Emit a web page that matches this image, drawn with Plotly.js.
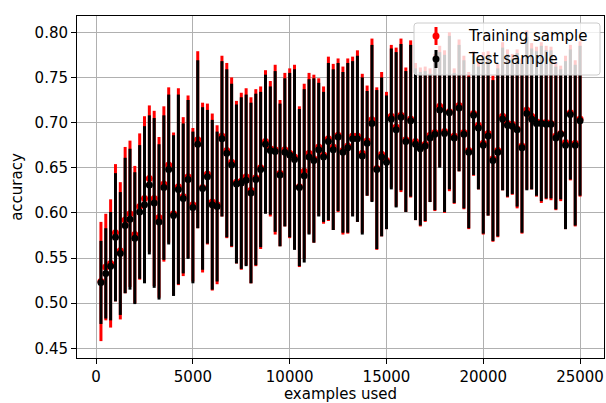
<!DOCTYPE html>
<html>
<head>
<meta charset="utf-8">
<script src="https://cdn.plot.ly/plotly-3.0.1.min.js"></script>
<style>html,body{margin:0;padding:0;background:#fff;}#chart{width:606px;height:403px;}</style>
</head>
<body>
<div id="chart"></div>
<script>
// examples used: 250, 500, ..., 25000 (100 steps)
const examplesUsed = [250,500,750,1000,1250,1500,1750,2000,2250,2500,2750,3000,3250,3500,3750,4000,4250,4500,4750,5000,
5250,5500,5750,6000,6250,6500,6750,7000,7250,7500,7750,8000,8250,8500,8750,9000,9250,9500,9750,10000,
10250,10500,10750,11000,11250,11500,11750,12000,12250,12500,12750,13000,13250,13500,13750,14000,14250,14500,14750,15000,
15250,15500,15750,16000,16250,16500,16750,17000,17250,17500,17750,18000,18250,18500,18750,19000,19250,19500,19750,20000,
20250,20500,20750,21000,21250,21500,21750,22000,22250,22500,22750,23000,23250,23500,23750,24000,24250,24500,24750,25000];

const trainMean = [0.524,0.540,0.544,0.578,0.558,0.592,0.599,0.576,0.607,0.616,
0.638,0.616,0.595,0.632,0.653,0.599,0.629,0.618,0.640,0.609,
0.681,0.628,0.643,0.612,0.609,0.685,0.669,0.656,0.634,0.635,
0.640,0.625,0.639,0.650,0.679,0.671,0.670,0.644,0.670,0.666,
0.662,0.629,0.646,0.666,0.660,0.673,0.664,0.682,0.673,0.686,
0.669,0.674,0.685,0.685,0.666,0.680,0.703,0.649,0.665,0.658,
0.707,0.695,0.708,0.681,0.704,0.679,0.673,0.676,0.686,0.689,
0.718,0.690,0.712,0.685,0.719,0.689,0.669,0.710,0.697,0.677,
0.688,0.660,0.669,0.707,0.699,0.698,0.693,0.674,0.714,0.707,
0.701,0.700,0.700,0.699,0.685,0.688,0.678,0.711,0.677,0.704];

const trainErr = [0.066,0.059,0.071,0.076,0.076,0.081,0.081,0.076,0.081,0.091,
0.081,0.097,0.089,0.086,0.086,0.090,0.109,0.088,0.090,0.085,
0.098,0.094,0.078,0.098,0.088,0.089,0.097,0.094,0.090,0.098,
0.098,0.103,0.098,0.090,0.079,0.075,0.094,0.081,0.085,0.094,
0.102,0.089,0.097,0.089,0.093,0.076,0.076,0.091,0.092,0.085,
0.093,0.097,0.088,0.095,0.088,0.061,0.090,0.090,0.091,0.076,
0.079,0.088,0.085,0.080,0.087,0.087,0.088,0.086,0.074,0.087,
0.067,0.090,0.088,0.075,0.073,0.085,0.087,0.069,0.071,0.101,
0.091,0.092,0.096,0.082,0.082,0.078,0.088,0.097,0.088,0.081,
0.083,0.089,0.085,0.085,0.082,0.075,0.096,0.075,0.092,0.086];

const testMean = [0.523,0.533,0.541,0.573,0.555,0.586,0.593,0.572,0.601,0.609,
0.631,0.611,0.590,0.628,0.648,0.597,0.626,0.616,0.637,0.606,
0.676,0.627,0.640,0.609,0.607,0.682,0.666,0.653,0.632,0.633,
0.636,0.622,0.637,0.648,0.676,0.669,0.668,0.642,0.667,0.664,
0.659,0.628,0.641,0.662,0.658,0.670,0.662,0.679,0.670,0.684,
0.667,0.672,0.682,0.682,0.663,0.677,0.699,0.648,0.662,0.656,
0.704,0.692,0.706,0.679,0.702,0.676,0.671,0.674,0.683,0.687,
0.714,0.688,0.711,0.683,0.716,0.687,0.667,0.708,0.694,0.675,
0.685,0.658,0.667,0.704,0.697,0.696,0.692,0.672,0.710,0.704,
0.699,0.699,0.698,0.698,0.683,0.687,0.675,0.709,0.675,0.702];

const testErr = [0.046,0.050,0.060,0.071,0.068,0.075,0.078,0.073,0.074,0.087,
0.077,0.094,0.086,0.080,0.083,0.089,0.105,0.083,0.088,0.084,
0.093,0.090,0.074,0.094,0.083,0.086,0.093,0.090,0.088,0.095,
0.095,0.100,0.095,0.086,0.077,0.071,0.089,0.079,0.082,0.091,
0.100,0.087,0.096,0.086,0.091,0.074,0.072,0.087,0.089,0.082,
0.089,0.094,0.086,0.092,0.087,0.058,0.087,0.088,0.088,0.074,
0.078,0.086,0.081,0.078,0.084,0.084,0.085,0.083,0.071,0.084,
0.064,0.087,0.085,0.072,0.070,0.082,0.084,0.066,0.068,0.098,
0.088,0.089,0.093,0.079,0.079,0.075,0.085,0.094,0.085,0.078,
0.080,0.086,0.082,0.082,0.079,0.072,0.093,0.072,0.089,0.083];

const seriesNames = ['Training sample', 'Test sample'];
const xTicks = [0, 5000, 10000, 15000, 20000, 25000];
const yTicks = [0.45, 0.50, 0.55, 0.60, 0.65, 0.70, 0.75, 0.80];

const FONT = 'DejaVu Sans, Verdana, sans-serif';
const W = 606, H = 403;
const M = {l: 77, r: 2, t: 16, b: 45};
const PW = W - M.l - M.r, PH = H - M.t - M.b;
const px = x => (x - M.l) / PW;
const py = y => (H - M.b - y) / PH;

function errTrace(name, y, err, color) {
  return {
    type: 'scatter', mode: 'markers', name: name,
    x: examplesUsed, y: y,
    marker: {color: color, size: 7, line: {width: 0}},
    error_y: {type: 'data', array: err, visible: true, color: color, thickness: 3, width: 0},
    showlegend: false, hoverinfo: 'skip'
  };
}

const traces = [
  errTrace(seriesNames[0], trainMean, trainErr, '#ff0000'),
  errTrace(seriesNames[1], testMean, testErr, '#000000')
];

// legend box (drawn manually to mimic vertical error-bar legend keys)
const lx0 = 414, lx1 = 600, ly0 = 23, ly1 = 75, r = 3;
function roundRectPath(x0, y0, x1, y1, rr) {
  const p = (x, y) => px(x) + ',' + py(y);
  return 'M' + p(x0 + rr, y0) + ' L' + p(x1 - rr, y0) + ' Q' + p(x1, y0) + ' ' + p(x1, y0 + rr) +
    ' L' + p(x1, y1 - rr) + ' Q' + p(x1, y1) + ' ' + p(x1 - rr, y1) +
    ' L' + p(x0 + rr, y1) + ' Q' + p(x0, y1) + ' ' + p(x0, y1 - rr) +
    ' L' + p(x0, y0 + rr) + ' Q' + p(x0, y0) + ' ' + p(x0 + rr, y0) + ' Z';
}
const keyX = 436;
const keyRows = [{y: 36, color: '#ff0000'}, {y: 59, color: '#000000'}];
const shapes = [{
  type: 'path', xref: 'paper', yref: 'paper', layer: 'above',
  path: roundRectPath(lx0, ly0, lx1, ly1, r),
  fillcolor: 'rgba(255,255,255,0.8)', line: {color: '#cccccc', width: 1}
}];
keyRows.forEach(k => {
  shapes.push({type: 'line', xref: 'paper', yref: 'paper', layer: 'above',
    x0: px(keyX), x1: px(keyX), y0: py(k.y - 9), y1: py(k.y + 9),
    line: {color: k.color, width: 3}});
  shapes.push({type: 'circle', xref: 'paper', yref: 'paper', layer: 'above',
    x0: px(keyX - 3.5), x1: px(keyX + 3.5), y0: py(k.y + 3.5), y1: py(k.y - 3.5),
    fillcolor: k.color, line: {color: k.color, width: 0}});
});
const annotations = seriesNames.map((n, i) => ({
  xref: 'paper', yref: 'paper', x: px(466), y: py(keyRows[i].y),
  xanchor: 'left', yanchor: 'middle', text: n, showarrow: false,
  font: {family: FONT, size: 15, color: '#000'}
}));

const axisCommon = {
  showline: true, mirror: true, linecolor: '#000', linewidth: 1,
  ticks: 'outside', ticklen: 5, tickwidth: 1, tickcolor: '#000',
  showgrid: true, gridcolor: '#b0b0b0', gridwidth: 1, zeroline: false,
  tickfont: {family: FONT, size: 15, color: '#000'}
};

const layout = {
  width: W, height: H, margin: M,
  paper_bgcolor: '#fff', plot_bgcolor: '#fff',
  font: {family: FONT, size: 15, color: '#000'},
  showlegend: false,
  xaxis: Object.assign({}, axisCommon, {
    range: [-987.5, 26237.5], tickmode: 'array', tickvals: xTicks,
    ticktext: xTicks.map(String),
    title: {text: 'examples used', font: {family: FONT, size: 15, color: '#000'}, standoff: 7}
  }),
  yaxis: Object.assign({}, axisCommon, {
    range: [0.4393, 0.818], tickmode: 'array', tickvals: yTicks,
    ticktext: yTicks.map(v => v.toFixed(2)),
    title: {text: 'accuracy', font: {family: FONT, size: 15, color: '#000'}, standoff: 8}
  }),
  shapes: shapes,
  annotations: annotations
};

Plotly.newPlot('chart', traces, layout, {staticPlot: true, displayModeBar: false});
</script>
</body>
</html>
